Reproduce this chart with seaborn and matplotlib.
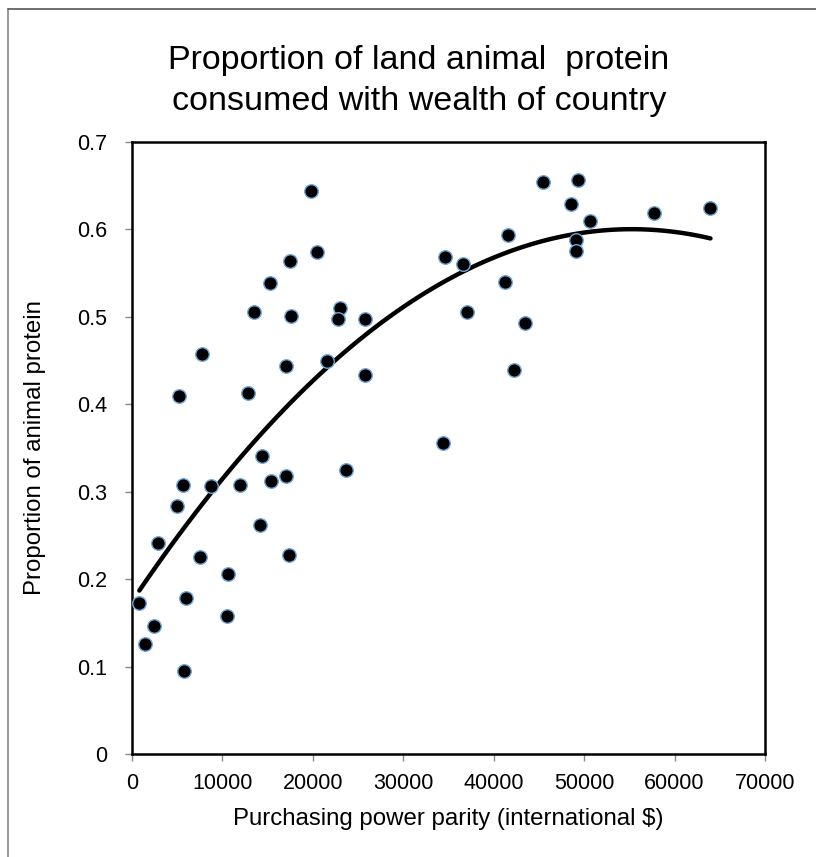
import numpy as np
import pandas as pd
import matplotlib.pyplot as plt
from matplotlib.lines import Line2D
import seaborn as sns

# purchasing power parity (international $) per country
ppp = [19800, 20470, 17480, 15230, 13460, 17620, 22970, 22820, 25770, 34620,
       36580, 37020, 7740, 17030, 21530, 25770, 5160, 12790, 34440, 14340,
       5640, 8700, 11950, 15340, 17000, 23710, 4980, 2880, 14200, 7480,
       17330, 10580, 810, 5940, 10540, 2470, 1470, 5790, 45500, 49370,
       48600, 50660, 57670, 63970, 41560, 49080, 49150, 41230, 43510, 42220]
# proportion of animal protein
prop = [0.644, 0.574, 0.564, 0.539, 0.506, 0.501, 0.510, 0.498, 0.497, 0.569,
        0.561, 0.505, 0.458, 0.444, 0.449, 0.434, 0.410, 0.413, 0.356, 0.341,
        0.308, 0.307, 0.308, 0.312, 0.318, 0.325, 0.284, 0.241, 0.262, 0.225,
        0.228, 0.206, 0.173, 0.178, 0.158, 0.146, 0.126, 0.095, 0.654, 0.656,
        0.629, 0.610, 0.619, 0.624, 0.594, 0.588, 0.575, 0.540, 0.493, 0.439]

x_ticks = [0, 10000, 20000, 30000, 40000, 50000, 60000, 70000]
y_ticks = [0, 0.1, 0.2, 0.3, 0.4, 0.5, 0.6, 0.7]
title_lines = ["Proportion of land animal  protein",
               "consumed with wealth of country"]

df = pd.DataFrame({"ppp": ppp, "prop": prop})

sns.set_style("white")
plt.rcParams["font.family"] = ["Liberation Sans", "DejaVu Sans"]
plt.rcParams["text.color"] = "black"
plt.rcParams["axes.labelcolor"] = "black"
plt.rcParams["xtick.labelcolor"] = "black"
plt.rcParams["ytick.labelcolor"] = "black"

W, H = 816, 857
fig = plt.figure(figsize=(W / 100, H / 100), dpi=100)
ax = fig.add_axes([132 / W, 1 - 754 / H, (765 - 132) / W, (754 - 142) / H])

# quadratic trendline
sns.regplot(data=df, x="ppp", y="prop", order=2, ci=None, scatter=False,
            line_kws={"color": "black", "lw": 3.2, "solid_capstyle": "round"},
            ax=ax)
sns.scatterplot(data=df, x="ppp", y="prop", s=95, color="black",
                edgecolor="#6fa8dc", linewidth=1.0, zorder=3, ax=ax)

ax.set_xlim(0, 70000)
ax.set_ylim(0, 0.7)
ax.set_xticks(x_ticks)
ax.set_yticks(y_ticks)
ax.set_xticklabels([str(v) for v in x_ticks])
ax.set_yticklabels([f"{v:g}" for v in y_ticks])
ax.tick_params(axis="both", direction="out", length=5, width=1,
               color="#888888", labelsize=15.5,
               bottom=True, left=True)
ax.tick_params(axis="y", pad=13)
ax.tick_params(axis="x", pad=9)
for s in ax.spines.values():
    s.set_color("black")
    s.set_linewidth(1.8)

ax.set_xlabel("Purchasing power parity (international $)", fontsize=17.3,
              labelpad=10)
ax.set_ylabel("Proportion of animal protein", fontsize=17.3, labelpad=22)

for i, line in enumerate(title_lines):
    fig.text(419 / W, 1 - (69 + 41 * i) / H, line,
             ha="center", va="baseline", fontsize=24.5)

# outer frame (left and top only)
fig.add_artist(Line2D([8 / W, 8 / W], [0, 1 - 9 / H], transform=fig.transFigure,
                      color="#888888", lw=1.2))
fig.add_artist(Line2D([8 / W, 1], [1 - 9 / H, 1 - 9 / H], transform=fig.transFigure,
                      color="#555555", lw=1.2))

fig.savefig("out.png", dpi=100)
